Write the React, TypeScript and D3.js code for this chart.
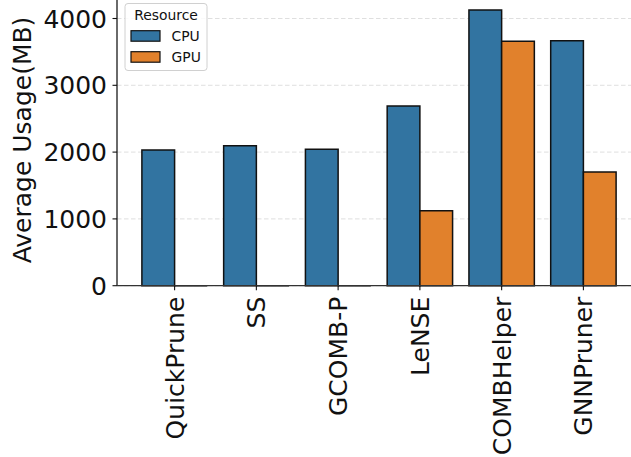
import React from "react";
import * as d3 from "d3";

const categories = ["QuickPrune", "SS", "GCOMB-P", "LeNSE", "COMBHelper", "GNNPruner"];
const seriesNames = ["CPU", "GPU"];
const cpuValues = [2031, 2096, 2042, 2690, 4127, 3668];
const gpuValues = [0, 0, 0, 1123, 3659, 1702];
const yTicks = [0, 1000, 2000, 3000, 4000];
const colors = ["#3274a1", "#e1812c"];

const W = 631;
const H = 457;
const FONT = "DejaVu Sans";

export default function App() {
  const left = 117;
  const bottom = 285.7;
  // x positions in category units
  const x = d3.scaleLinear().domain([0, 5]).range([174.6, 583.4]);
  const y = d3.scaleLinear().domain([0, 4000]).range([bottom, 18.5]);
  const groupW = 0.8;
  const barW = x(groupW / 2) - x(0);
  const series = [cpuValues, gpuValues];

  return (
    <svg
      width={W}
      height={H}
      style={{ position: "absolute", left: 0, top: 0, background: "#fff" }}
      fontFamily={FONT}
    >
      {/* grid */}
      {yTicks.map((t) => (
        <line
          key={"g" + t}
          x1={left}
          x2={W}
          y1={y(t)}
          y2={y(t)}
          stroke="#d4d4d4"
          strokeWidth={0.9}
          strokeDasharray="4.5,2.5"
          opacity={0.8}
        />
      ))}
      {/* bars */}
      {series.map((vals, s) =>
        vals.map((v, i) => {
          const x0 = x(i) - barW + s * barW;
          const x1 = x0 + barW;
          const y0 = y(0);
          const y1 = y(v);
          return (
            <path
              key={s + "-" + i}
              d={`M${x0},${y0}H${x1}V${y1}H${x0}Z`}
              fill={colors[s]}
              stroke="#111"
              strokeWidth={1.5}
              strokeLinejoin="miter"
            />
          );
        })
      )}
      {/* spines */}
      <line x1={left} x2={left} y1={0} y2={bottom} stroke="#111" strokeWidth={1.25} />
      <line x1={left} x2={W} y1={bottom} y2={bottom} stroke="#333" strokeWidth={1.25} />
      {/* y ticks */}
      {yTicks.map((t) => (
        <g key={"yt" + t}>
          <line x1={left - 4.5} x2={left} y1={y(t)} y2={y(t)} stroke="#111" strokeWidth={1.1} />
          <text
            x={left - 10}
            y={y(t)}
            dy="0.36em"
            textAnchor="end"
            fontSize={25}
            fill="#111"
          >
            {d3.format("d")(t)}
          </text>
        </g>
      ))}
      {/* x ticks */}
      {categories.map((c, i) => (
        <g key={"xt" + c}>
          <line x1={x(i)} x2={x(i)} y1={bottom} y2={bottom + 4.5} stroke="#111" strokeWidth={1.1} />
          <text
            transform={`translate(${x(i)},${bottom + 11}) rotate(-90)`}
            dy="0.36em"
            textAnchor="end"
            fontSize={25}
            fill="#111"
          >
            {c}
          </text>
        </g>
      ))}
      {/* y label */}
      <text
        transform={`translate(31,140) rotate(-90)`}
        textAnchor="middle"
        fontSize={25}
        fill="#111"
      >
        Average Usage(MB)
      </text>
      {/* legend */}
      <g>
        <rect
          x={125}
          y={3.5}
          width={82}
          height={67}
          rx={3}
          fill="#fff"
          fillOpacity={0.85}
          stroke="#d0d0d0"
          strokeWidth={1}
        />
        <text x={166} y={20} textAnchor="middle" fontSize={13.9} fill="#111">
          Resource
        </text>
        {seriesNames.map((n, s) => (
          <g key={"lg" + n}>
            <rect
              x={131}
              y={30.7 + s * 21}
              width={29}
              height={10.5}
              fill={colors[s]}
              stroke="#111"
              strokeWidth={1.2}
            />
            <text x={171.5} y={40.8 + s * 21} fontSize={13.9} fill="#111">
              {n}
            </text>
          </g>
        ))}
      </g>
    </svg>
  );
}
